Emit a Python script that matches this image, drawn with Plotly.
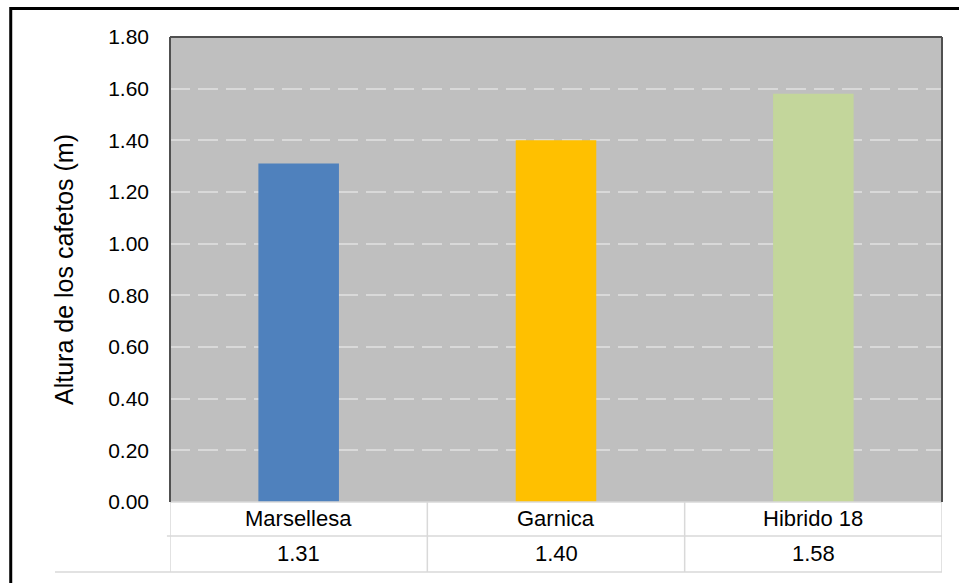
import plotly.graph_objects as go

# Coffee plant height by variety
categories = ["Marsellesa", "Garnica", "Hibrido 18"]
heights = [1.31, 1.40, 1.58]
bar_colors = ["#4F81BD", "#FFC000", "#C3D69B"]
y_ticks = [0.0, 0.2, 0.4, 0.6, 0.8, 1.0, 1.2, 1.4, 1.6, 1.8]
y_title = "Altura de los cafetos (m)"

FONT = "Liberation Sans, Arial, sans-serif"
GRID = "#D9D9D9"

fig = go.Figure()
fig.add_trace(go.Bar(
    x=categories,
    y=heights,
    marker=dict(color=bar_colors, line=dict(width=0)),
    width=0.313,
    hoverinfo="x+y",
))

# data table beneath the axis: category row and value row
row_bounds = [0.0, -0.0731, -0.1505]
shapes = []
# horizontal rules of the table
shapes.append(dict(type="line", xref="paper", yref="paper", x0=-0.004, x1=1.0,
                   y0=row_bounds[1], y1=row_bounds[1], line=dict(color=GRID, width=1.5)))
shapes.append(dict(type="line", xref="paper", yref="paper", x0=-0.149, x1=1.0,
                   y0=row_bounds[2], y1=row_bounds[2], line=dict(color=GRID, width=1.5)))
shapes.append(dict(type="line", xref="paper", yref="paper", x0=0, x1=1.0,
                   y0=0, y1=0, line=dict(color=GRID, width=1.5)))
# vertical rules at category boundaries
for b in [-0.5, 0.5, 1.5, 2.5]:
    shapes.append(dict(type="line", xref="x", yref="paper", x0=b, x1=b,
                       y0=0, y1=row_bounds[2], line=dict(color=GRID, width=1.5)))
# plot area frame (left, top, right)
frame = dict(color="#505050", width=2)
shapes.append(dict(type="line", xref="paper", yref="paper", x0=0, x1=0, y0=0, y1=1, line=frame))
shapes.append(dict(type="line", xref="paper", yref="paper", x0=0, x1=1, y0=1, y1=1, line=frame))
shapes.append(dict(type="line", xref="paper", yref="paper", x0=1, x1=1, y0=0, y1=1, line=frame))
# outer figure border
shapes.append(dict(type="rect", xref="paper", yref="paper",
                   x0=-0.2063, x1=1.06, y0=-0.19, y1=1.0613,
                   line=dict(color="#000000", width=3), layer="above"))

annotations = []
for i, (c, v) in enumerate(zip(categories, heights)):
    annotations.append(dict(x=c, xref="x", yref="paper", y=(row_bounds[0] + row_bounds[1]) / 2,
                            text=c, showarrow=False, yanchor="middle",
                            font=dict(family=FONT, size=22, color="#000000")))
    annotations.append(dict(x=c, xref="x", yref="paper", y=(row_bounds[1] + row_bounds[2]) / 2,
                            text=f"{v:.2f}", showarrow=False, yanchor="middle",
                            font=dict(family=FONT, size=22, color="#000000")))

fig.update_layout(
    width=959, height=583,
    margin=dict(l=170, r=17, t=37, b=81),
    paper_bgcolor="#FFFFFF",
    plot_bgcolor="#BFBFBF",
    showlegend=False,
    font=dict(family=FONT, color="#000000"),
    shapes=shapes,
    annotations=annotations,
    xaxis=dict(showticklabels=False, showgrid=False, zeroline=False, showline=False,
               range=[-0.5, 2.5]),
    yaxis=dict(
        range=[0, 1.8],
        tickvals=y_ticks,
        tickformat=".2f",
        tickfont=dict(family=FONT, size=21, color="#000000"),
        ticklabelstandoff=20,
        showgrid=True, gridcolor=GRID, gridwidth=2, griddash="20px,8px",
        zeroline=False, showline=False,
        title=dict(text=y_title, font=dict(family=FONT, size=25, color="#000000"), standoff=27),
    ),
)

fig.write_html("out.html")
